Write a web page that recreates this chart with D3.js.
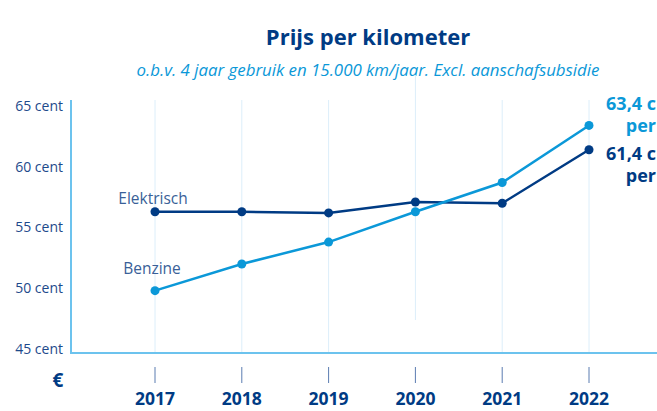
<!DOCTYPE html>
<html><head><meta charset="utf-8">
<script src="https://cdn.jsdelivr.net/npm/d3@7"></script>
<style>body{margin:0;background:#fff;} svg{display:block;font-family:"Open Sans",sans-serif;}</style>
</head><body><svg id="c" width="657" height="411"></svg>
<script>
const years = [2017, 2018, 2019, 2020, 2021, 2022];
const elektrisch = [56.3, 56.3, 56.2, 57.1, 57.0, 61.4];
const benzine = [49.8, 52.0, 53.8, 56.3, 58.7, 63.4];
const yTicks = [45, 50, 55, 60, 65];
const title = "Prijs per kilometer";
const subtitle = "o.b.v. 4 jaar gebruik en 15.000 km/jaar. Excl. aanschafsubsidie";

const navy = "#003b84", light = "#0b98d8";
const svg = d3.select("#c");
const x = d3.scalePoint().domain(years).range([155, 589]);
const y = d3.scaleLinear().domain([45, 65]).range([349, 106]);

// title
svg.append("text").attr("x", 368).attr("y", 45).attr("text-anchor", "middle")
  .attr("font-size", 22).attr("font-weight", 700).attr("fill", navy).text(title);
svg.append("text").attr("x", 368).attr("y", 76).attr("text-anchor", "middle")
  .attr("font-size", 16.5).attr("font-style", "italic").attr("fill", light)
  .attr("textLength", 463).attr("lengthAdjust", "spacingAndGlyphs").text(subtitle);

// gridlines
svg.append("g").selectAll("line").data(years).join("line")
  .attr("x1", d => x(d)).attr("x2", d => x(d))
  .attr("y1", d => d === 2020 ? 75 : 100).attr("y2", d => d === 2020 ? 320 : 353)
  .attr("stroke", "#dceefa").attr("stroke-width", 1);

// axes lines
svg.append("line").attr("x1", 71).attr("x2", 71).attr("y1", 100).attr("y2", 354)
  .attr("stroke", "#6cc3ee").attr("stroke-width", 2);
svg.append("line").attr("x1", 70).attr("x2", 657).attr("y1", 353).attr("y2", 353)
  .attr("stroke", "#6cc3ee").attr("stroke-width", 2);

// y labels
svg.append("g").selectAll("text").data(yTicks).join("text")
  .attr("x", 63).attr("y", d => y(d)).attr("dy", "0.35em").attr("text-anchor", "end")
  .attr("font-size", 14).attr("fill", "#1d4a8b").text(d => d + " cent");

// x ticks and labels
const xg = svg.append("g");
xg.selectAll("line").data(years).join("line")
  .attr("x1", d => x(d)).attr("x2", d => x(d)).attr("y1", 367).attr("y2", 383)
  .attr("stroke", "#5b7cb1").attr("stroke-width", 1);
xg.selectAll("text").data(years).join("text")
  .attr("x", d => x(d)).attr("y", 405).attr("text-anchor", "middle")
  .attr("font-size", 17.5).attr("font-weight", 700).attr("fill", navy).text(d => d);
svg.append("text").attr("x", 58).attr("y", 387).attr("text-anchor", "middle")
  .attr("font-size", 19).attr("font-weight", 700).attr("fill", navy).text("€");

// lines
const line = d3.line().x((d, i) => x(years[i])).y(d => y(d));
function series(vals, col) {
  svg.append("path").datum(vals).attr("d", line).attr("fill", "none")
    .attr("stroke", col).attr("stroke-width", 2.5);
  svg.append("g").selectAll("circle").data(vals).join("circle")
    .attr("cx", (d, i) => x(years[i])).attr("cy", d => y(d)).attr("r", 4.5).attr("fill", col);
}
series(elektrisch, navy);
series(benzine, light);

// series labels
svg.append("text").attr("x", 153).attr("y", 204).attr("text-anchor", "middle")
  .attr("font-size", 15.5).attr("fill", "#3a5f98").text("Elektrisch");
svg.append("text").attr("x", 152).attr("y", 274).attr("text-anchor", "middle")
  .attr("font-size", 15.5).attr("fill", "#3a5f98").text("Benzine");

// end labels
function endLabel(v, col, yy) {
  svg.append("text").attr("x", 656).attr("y", yy).attr("text-anchor", "end")
    .attr("font-size", 18).attr("font-weight", 700).attr("fill", col)
    .text(String(v).replace(".", ",") + " c");
  svg.append("text").attr("x", 656).attr("y", yy + 22).attr("text-anchor", "end")
    .attr("font-size", 18).attr("font-weight", 700).attr("fill", col).text("per");
}
endLabel(benzine[5], light, 110);
endLabel(elektrisch[5], navy, 160);
</script></body></html>
